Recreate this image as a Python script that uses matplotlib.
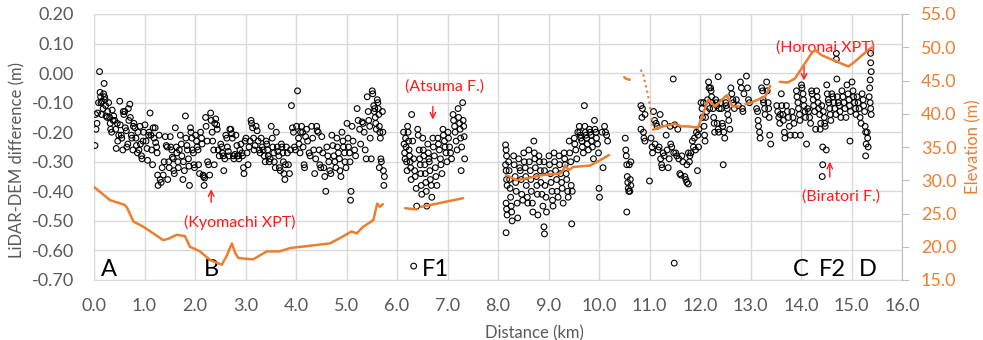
import matplotlib
matplotlib.use("Agg")
import matplotlib.pyplot as plt
import numpy as np

plt.rcParams['font.family'] = ['Lato', 'DejaVu Sans']

# ---------------- data: LiDAR-DEM difference (m) vs distance (km) ----------------
seg_a = [(0.02,-0.245),(0.03,-0.14),(0.04,-0.19),(0.06,-0.17),(0.07,-0.135),(0.09,-0.10),
         (0.11,0.005),(0.12,-0.065),(0.13,-0.08),(0.14,-0.10),(0.15,-0.14),(0.16,-0.095),(0.18,-0.12),(0.19,-0.07),
         (0.20,-0.035),(0.21,-0.08),(0.22,-0.09),(0.23,-0.11),(0.24,-0.145),(0.26,-0.15),(0.27,-0.13),(0.29,-0.10),
         (0.31,-0.15),(0.32,-0.17),(0.33,-0.19),(0.35,-0.20),(0.36,-0.125),(0.38,-0.16),(0.39,-0.145),
         (0.41,-0.16),(0.43,-0.19),(0.44,-0.255),(0.46,-0.17),(0.47,-0.23),(0.49,-0.21),
         (0.51,-0.095),(0.52,-0.175),(0.54,-0.21),(0.55,-0.22),(0.57,-0.26),(0.58,-0.13),(0.59,-0.14),
         (0.61,-0.13),(0.62,-0.185),(0.64,-0.195),(0.65,-0.25),(0.67,-0.24),(0.68,-0.12),(0.69,-0.16),
         (0.71,-0.105),(0.72,-0.15),(0.74,-0.21),(0.75,-0.22),(0.77,-0.26),(0.78,-0.18),(0.79,-0.17),
         (0.81,-0.185),(0.83,-0.22),(0.84,-0.245),(0.86,-0.27),(0.87,-0.20),(0.89,-0.26),
         (0.91,-0.18),(0.92,-0.24),(0.94,-0.28),(0.95,-0.29),(0.97,-0.23),(0.98,-0.20)]

seg_b = [(1.01,-0.175),(1.03,-0.23),(1.05,-0.255),(1.06,-0.295),(1.08,-0.21),(1.09,-0.20),
         (1.11,-0.135),(1.13,-0.21),(1.14,-0.26),(1.16,-0.31),(1.17,-0.185),(1.19,-0.22),
         (1.21,-0.185),(1.22,-0.235),(1.24,-0.25),(1.25,-0.27),(1.26,-0.345),(1.27,-0.38),(1.29,-0.21),
         (1.31,-0.36),(1.33,-0.37),(1.35,-0.32),(1.37,-0.345),(1.39,-0.30),
         (1.41,-0.215),(1.43,-0.245),(1.45,-0.25),(1.46,-0.36),(1.48,-0.30),(1.49,-0.32),
         (1.51,-0.215),(1.52,-0.25),(1.54,-0.26),(1.55,-0.285),(1.57,-0.29),(1.58,-0.33),(1.59,-0.34),
         (1.61,-0.185),(1.63,-0.25),(1.64,-0.27),(1.66,-0.30),(1.67,-0.32),(1.69,-0.26),
         (1.71,-0.21),(1.73,-0.24),(1.74,-0.28),(1.76,-0.36),(1.77,-0.30),(1.79,-0.33),
         (1.81,-0.145),(1.82,-0.22),(1.84,-0.245),(1.85,-0.26),(1.87,-0.29),(1.88,-0.315),(1.89,-0.38),
         (1.91,-0.185),(1.92,-0.20),(1.94,-0.22),(1.95,-0.26),(1.97,-0.27),(1.98,-0.31),(1.99,-0.32)]

seg_c = [(2.01,-0.21),(2.03,-0.23),(2.04,-0.25),(2.06,-0.26),(2.07,-0.31),(2.09,-0.34),
         (2.11,-0.20),(2.13,-0.22),(2.14,-0.24),(2.16,-0.345),(2.17,-0.35),(2.19,-0.355),(2.18,-0.38),
         (2.21,-0.15),(2.22,-0.18),(2.24,-0.23),(2.25,-0.30),(2.27,-0.31),(2.29,-0.345),
         (2.31,-0.135),(2.32,-0.16),(2.34,-0.20),(2.35,-0.23),(2.37,-0.26),(2.38,-0.31),(2.39,-0.17),
         (2.41,-0.155),(2.43,-0.175),(2.44,-0.19),(2.46,-0.26),(2.48,-0.28),
         (2.51,-0.24),(2.53,-0.25),(2.54,-0.27),(2.56,-0.28),(2.57,-0.33),(2.59,-0.29),
         (2.61,-0.21),(2.63,-0.22),(2.64,-0.25),(2.66,-0.265),(2.67,-0.28),(2.69,-0.19),
         (2.71,-0.19),(2.73,-0.205),(2.74,-0.22),(2.76,-0.28),(2.77,-0.29),(2.79,-0.275),
         (2.81,-0.21),(2.83,-0.245),(2.84,-0.28),(2.86,-0.28),(2.87,-0.29),(2.89,-0.26),
         (2.91,-0.24),(2.93,-0.27),(2.94,-0.28),(2.96,-0.32),(2.97,-0.34),(2.99,-0.23)]

seg_d = [(3.01,-0.22),(3.03,-0.27),(3.05,-0.31),(3.07,-0.25),(3.09,-0.23),
         (3.11,-0.16),(3.12,-0.17),(3.14,-0.185),(3.16,-0.22),(3.17,-0.26),(3.19,-0.245),
         (3.21,-0.18),(3.23,-0.195),(3.25,-0.23),(3.27,-0.26),(3.29,-0.27),
         (3.31,-0.22),(3.33,-0.25),(3.35,-0.26),(3.37,-0.28),(3.39,-0.30),
         (3.41,-0.23),(3.42,-0.24),(3.44,-0.26),(3.45,-0.28),(3.47,-0.30),(3.49,-0.29),
         (3.51,-0.18),(3.53,-0.22),(3.54,-0.25),(3.56,-0.27),(3.57,-0.30),(3.59,-0.32),
         (3.61,-0.20),(3.63,-0.25),(3.64,-0.265),(3.66,-0.28),(3.67,-0.32),(3.69,-0.33),
         (3.71,-0.24),(3.72,-0.25),(3.74,-0.27),(3.75,-0.30),(3.76,-0.34),(3.78,-0.36),(3.79,-0.31),
         (3.81,-0.25),(3.83,-0.27),(3.85,-0.31),(3.87,-0.34),(3.89,-0.26),
         (3.91,-0.11),(3.93,-0.185),(3.95,-0.20),(3.97,-0.25),(3.99,-0.26)]

seg_e = [(4.01,-0.18),(4.03,-0.06),(4.05,-0.22),(4.06,-0.24),(4.08,-0.27),(4.09,-0.20),
         (4.11,-0.18),(4.13,-0.20),(4.14,-0.25),(4.16,-0.31),(4.17,-0.32),(4.19,-0.215),
         (4.21,-0.19),(4.23,-0.23),(4.26,-0.27),(4.28,-0.28),
         (4.31,-0.18),(4.33,-0.22),(4.35,-0.26),(4.37,-0.34),(4.39,-0.29),
         (4.41,-0.18),(4.42,-0.195),(4.44,-0.20),(4.46,-0.26),(4.47,-0.31),(4.49,-0.32),
         (4.51,-0.215),(4.53,-0.27),(4.55,-0.32),(4.57,-0.35),(4.59,-0.40),
         (4.61,-0.25),(4.63,-0.28),(4.65,-0.30),(4.67,-0.33),(4.69,-0.34),
         (4.71,-0.21),(4.73,-0.245),(4.75,-0.28),(4.77,-0.30),(4.79,-0.32),
         (4.81,-0.22),(4.82,-0.25),(4.84,-0.27),(4.86,-0.29),(4.87,-0.33),(4.89,-0.35),
         (4.91,-0.20),(4.93,-0.23),(4.94,-0.25),(4.96,-0.27),(4.97,-0.30),(4.99,-0.32)]

seg_f = [(5.01,-0.17),(5.03,-0.22),(5.04,-0.25),(5.06,-0.27),(5.07,-0.30),(5.09,-0.40),(5.08,-0.43),
         (5.11,-0.18),(5.13,-0.23),(5.16,-0.26),(5.18,-0.28),
         (5.21,-0.12),(5.23,-0.16),(5.26,-0.19),(5.28,-0.24),
         (5.31,-0.165),(5.33,-0.17),(5.35,-0.20),(5.37,-0.26),(5.39,-0.29),
         (5.41,-0.08),(5.43,-0.13),(5.44,-0.16),(5.46,-0.18),(5.47,-0.22),(5.49,-0.29),
         (5.51,-0.06),(5.52,-0.07),(5.54,-0.11),(5.55,-0.13),(5.57,-0.15),(5.58,-0.17),(5.59,-0.19),(5.56,-0.12),
         (5.61,-0.09),(5.62,-0.10),(5.63,-0.12),(5.64,-0.14),(5.65,-0.18),(5.66,-0.20),(5.67,-0.22),(5.68,-0.29),(5.69,-0.30),(5.65,-0.32),
         (5.71,-0.13),(5.72,-0.20),(5.73,-0.33),(5.74,-0.38),(5.75,-0.35)]

seg_g = [(6.13,-0.20),(6.14,-0.24),(6.15,-0.27),(6.16,-0.29),(6.17,-0.22),(6.18,-0.25),(6.19,-0.30),(6.20,-0.33),
         (6.21,-0.18),(6.22,-0.20),(6.23,-0.23),(6.24,-0.26),(6.25,-0.28),(6.26,-0.30),(6.27,-0.32),(6.28,-0.36),(6.29,-0.14),
         (6.31,-0.23),(6.33,-0.29),(6.35,-0.33),(6.36,-0.35),(6.38,-0.39),(6.39,-0.45),(6.33,-0.653),
         (6.41,-0.19),(6.42,-0.21),(6.44,-0.26),(6.45,-0.29),(6.46,-0.31),(6.47,-0.34),(6.48,-0.38),(6.49,-0.41),
         (6.51,-0.22),(6.52,-0.26),(6.53,-0.28),(6.55,-0.31),(6.56,-0.34),(6.57,-0.37),(6.58,-0.40),(6.59,-0.45),
         (6.61,-0.24),(6.62,-0.27),(6.63,-0.29),(6.64,-0.30),(6.65,-0.33),(6.66,-0.36),(6.68,-0.38),(6.69,-0.42),
         (6.71,-0.22),(6.72,-0.25),(6.74,-0.28),(6.76,-0.32),(6.77,-0.35),(6.79,-0.38),
         (6.81,-0.22),(6.82,-0.24),(6.84,-0.26),(6.86,-0.29),(6.87,-0.31),(6.89,-0.34),
         (6.91,-0.19),(6.92,-0.21),(6.94,-0.23),(6.95,-0.25),(6.97,-0.27),(6.99,-0.30),
         (7.01,-0.20),(7.02,-0.22),(7.04,-0.25),(7.06,-0.27),(7.08,-0.29),
         (7.11,-0.14),(7.12,-0.16),(7.14,-0.18),(7.15,-0.20),(7.17,-0.23),(7.19,-0.26),
         (7.21,-0.12),(7.22,-0.15),(7.24,-0.17),(7.25,-0.19),(7.26,-0.22),(7.28,-0.25),(7.27,-0.33),
         (7.30,-0.10),(7.31,-0.16),(7.32,-0.18),(7.33,-0.215),(7.34,-0.29)]

seg_h = [(8.15,-0.243),(8.16,-0.26),(8.17,-0.28),(8.15,-0.31),(8.16,-0.33),(8.17,-0.36),(8.18,-0.38),(8.16,-0.44),(8.17,-0.46),(8.18,-0.48),(8.16,-0.54),
         (8.21,-0.30),(8.22,-0.33),(8.23,-0.36),(8.24,-0.39),(8.25,-0.42),(8.26,-0.45),(8.27,-0.47),(8.28,-0.50),
         (8.31,-0.28),(8.32,-0.31),(8.34,-0.35),(8.35,-0.37),(8.36,-0.40),(8.38,-0.44),(8.39,-0.49),
         (8.41,-0.29),(8.43,-0.32),(8.44,-0.33),(8.46,-0.36),(8.47,-0.41),(8.49,-0.43),
         (8.51,-0.27),(8.52,-0.30),(8.54,-0.32),(8.55,-0.35),(8.56,-0.38),(8.58,-0.42),(8.59,-0.44),
         (8.61,-0.26),(8.62,-0.30),(8.64,-0.33),(8.65,-0.36),(8.66,-0.40),(8.68,-0.44),(8.69,-0.47),
         (8.71,-0.23),(8.72,-0.27),(8.73,-0.29),(8.74,-0.32),(8.76,-0.35),(8.77,-0.38),(8.78,-0.41),(8.79,-0.48),
         (8.81,-0.28),(8.82,-0.30),(8.84,-0.33),(8.85,-0.37),(8.87,-0.41),(8.89,-0.45),
         (8.91,-0.30),(8.92,-0.33),(8.93,-0.38),(8.95,-0.42),(8.96,-0.47),(8.91,-0.52),(8.92,-0.544),
         (9.01,-0.28),(9.02,-0.31),(9.04,-0.34),(9.05,-0.37),(9.07,-0.40),(9.08,-0.43),(9.09,-0.45),
         (9.11,-0.27),(9.12,-0.30),(9.14,-0.33),(9.16,-0.36),(9.17,-0.40),(9.19,-0.42),
         (9.21,-0.28),(9.22,-0.31),(9.24,-0.34),(9.26,-0.37),(9.27,-0.39),(9.29,-0.44),
         (9.31,-0.27),(9.32,-0.29),(9.33,-0.31),(9.35,-0.34),(9.36,-0.36),(9.38,-0.40),(9.39,-0.42),
         (9.41,-0.23),(9.42,-0.27),(9.44,-0.30),(9.45,-0.38),(9.47,-0.40),(9.46,-0.51),
         (9.51,-0.22),(9.52,-0.24),(9.54,-0.26),(9.56,-0.29),(9.58,-0.20),
         (9.61,-0.18),(9.62,-0.20),(9.63,-0.21),(9.64,-0.22),(9.66,-0.23),(9.67,-0.25),(9.69,-0.27),
         (9.71,-0.11),(9.72,-0.18),(9.73,-0.20),(9.74,-0.21),(9.76,-0.22),(9.77,-0.24),(9.79,-0.26),
         (9.81,-0.19),(9.82,-0.20),(9.84,-0.21),(9.85,-0.23),(9.87,-0.25),(9.89,-0.29),
         (9.91,-0.16),(9.92,-0.19),(9.94,-0.20),(9.95,-0.22),(9.97,-0.24),(9.99,-0.27),
         (10.00,-0.39),(10.01,-0.42),(10.08,-0.32),(10.06,-0.20),(10.11,-0.18),(10.13,-0.20),(10.15,-0.21),(10.17,-0.23)]

seg_i = [(10.52,-0.22),(10.53,-0.26),(10.54,-0.28),(10.55,-0.31),(10.56,-0.35),(10.57,-0.37),(10.58,-0.39),
         (10.59,-0.40),(10.55,-0.47),(10.60,-0.31),(10.62,-0.36),(10.63,-0.38),(10.61,-0.40),(10.63,-0.30),
         (10.83,-0.11),(10.85,-0.15),(10.91,-0.14),(10.83,-0.19),(10.88,-0.20),(10.89,-0.22),(10.91,-0.23),(10.86,-0.12)]

seg_j = [(11.00,-0.365),(11.03,-0.22),(11.05,-0.25),(11.06,-0.27),(11.08,-0.13),(11.10,-0.16),
         (11.11,-0.24),(11.13,-0.17),(11.15,-0.18),(11.17,-0.26),(11.19,-0.25),(11.21,-0.14),
         (11.22,-0.29),(11.24,-0.31),(11.25,-0.32),(11.27,-0.27),(11.29,-0.28),(11.30,-0.17),
         (11.33,-0.21),(11.35,-0.26),(11.37,-0.32),(11.39,-0.29),(11.41,-0.18),(11.42,-0.24),
         (11.44,-0.25),(11.47,-0.02),(11.48,-0.27),(11.50,-0.175),(11.52,-0.27),(11.54,-0.28),
         (11.56,-0.19),(11.58,-0.29),(11.60,-0.34),(11.62,-0.345),(11.64,-0.28),(11.66,-0.30),
         (11.70,-0.35),(11.72,-0.36),(11.74,-0.37),(11.74,-0.31),(11.77,-0.375),(11.77,-0.27),
         (11.79,-0.30),(11.80,-0.28),(11.82,-0.27),(11.85,-0.23),(11.87,-0.25),(11.89,-0.22),
         (11.91,-0.26),(11.93,-0.20),(11.95,-0.33),(11.96,-0.21),(11.97,-0.25),(11.98,-0.19),
         (11.49,-0.643)]

seg_k = [(12.02,-0.10),(12.04,-0.12),(12.05,-0.15),(12.07,-0.10),(12.08,-0.18),(12.09,-0.21),(12.10,-0.23),
         (12.11,-0.15),(12.13,-0.13),(12.15,-0.09),(12.17,-0.03),(12.18,-0.05),(12.19,-0.12),
         (12.21,-0.05),(12.22,-0.06),(12.23,-0.08),(12.24,-0.10),(12.26,-0.12),(12.27,-0.15),(12.28,-0.17),(12.29,-0.20),
         (12.31,-0.09),(12.32,-0.10),(12.33,-0.11),(12.34,-0.17),(12.36,-0.19),(12.37,-0.20),(12.38,-0.12),(12.36,-0.012),
         (12.41,-0.10),(12.42,-0.12),(12.44,-0.17),(12.45,-0.18),(12.46,-0.31),(12.47,-0.20),(12.49,-0.22),
         (12.51,-0.10),(12.52,-0.11),(12.54,-0.12),(12.55,-0.14),(12.57,-0.16),(12.59,-0.19),
         (12.61,-0.05),(12.63,-0.07),(12.65,-0.09),(12.66,-0.10),(12.68,-0.12),
         (12.72,-0.09),(12.76,-0.11),
         (12.80,-0.03),(12.82,-0.05),(12.84,-0.12),(12.85,-0.13),(12.87,-0.07),
         (12.92,-0.01),(12.94,-0.05),(12.96,-0.09),(12.98,-0.10),
         (13.12,-0.12),(13.14,-0.13),(13.15,-0.16),(13.16,-0.18),(13.18,-0.20),(13.19,-0.22),
         (13.22,-0.05),(13.24,-0.06),(13.25,-0.09),(13.26,-0.10),(13.28,-0.12),(13.29,-0.14),
         (13.32,-0.03),(13.33,-0.06),(13.35,-0.10),(13.36,-0.12),(13.37,-0.15),(13.38,-0.21),(13.40,-0.24)]

seg_l = [(13.52,-0.11),(13.54,-0.13),(13.56,-0.15),(13.58,-0.17),(13.59,-0.14),
         (13.61,-0.07),(13.62,-0.11),(13.64,-0.14),(13.65,-0.16),(13.67,-0.20),(13.68,-0.22),
         (13.71,-0.11),(13.73,-0.13),(13.75,-0.15),(13.77,-0.18),(13.79,-0.21),
         (13.82,-0.13),(13.84,-0.15),(13.86,-0.17),(13.88,-0.21),
         (13.91,-0.06),(13.92,-0.08),(13.94,-0.10),(13.95,-0.12),(13.97,-0.14),(13.98,-0.16),(13.99,-0.21),
         (14.01,-0.04),(14.02,-0.05),(14.04,-0.07),(14.05,-0.09),(14.06,-0.11),(14.08,-0.13),(14.09,-0.15),(14.11,-0.24),
         (14.13,-0.12),(14.15,-0.13),(14.17,-0.15),(14.19,-0.17),
         (14.21,-0.06),(14.22,-0.07),(14.24,-0.09),(14.25,-0.11),(14.27,-0.13),(14.29,-0.19),
         (14.31,-0.06),(14.32,-0.08),(14.34,-0.10),(14.35,-0.12),(14.37,-0.14),(14.38,-0.19),(14.39,-0.17),
         (14.41,-0.11),(14.44,-0.13),(14.46,-0.15),(14.47,-0.17),(14.48,-0.18),
         (14.43,-0.25),(14.50,-0.26),(14.43,-0.31),(14.42,-0.35),
         (14.51,-0.04),(14.52,-0.07),(14.54,-0.09),(14.55,-0.10),(14.57,-0.12),(14.58,-0.14),(14.59,-0.16),
         (14.61,-0.07),(14.63,-0.08),(14.65,-0.10),(14.67,-0.12),(14.69,-0.14),
         (14.71,-0.02),(14.72,-0.08),(14.74,-0.10),(14.76,-0.11),(14.77,-0.13),(14.79,-0.15),
         (14.70,0.067),(14.70,0.047),
         (14.81,-0.06),(14.83,-0.08),(14.85,-0.10),(14.87,-0.12),(14.89,-0.15),
         (14.91,-0.04),(14.93,-0.07),(14.95,-0.09),(14.96,-0.11),(14.98,-0.13),(14.97,-0.23),
         (15.01,-0.03),(15.03,-0.06),(15.04,-0.08),(15.06,-0.10),(15.08,-0.12),(15.09,-0.14),
         (15.11,-0.08),(15.13,-0.10),(15.15,-0.12),(15.17,-0.15),(15.19,-0.17),
         (15.21,-0.07),(15.23,-0.09),(15.24,-0.11),(15.26,-0.13),(15.27,-0.18),(15.28,-0.20),(15.29,-0.24),(15.28,-0.28),
         (15.31,-0.20),(15.32,-0.22),(15.33,-0.25),
         (15.38,0.067),(15.38,0.035),(15.39,0.005),(15.37,-0.023),(15.36,-0.05),(15.35,-0.08),(15.37,-0.10),(15.38,-0.12),(15.39,-0.14)]

# ---------------- data: elevation (m) ----------------
elev1_x = [0.0, 0.32, 0.61, 0.66, 0.78, 0.98, 1.37, 1.47, 1.64, 1.80, 1.90, 2.10, 2.30, 2.53, 2.62,
           2.73, 2.80, 2.86, 3.15, 3.42, 3.68, 3.88, 4.67, 4.87, 5.10, 5.20, 5.33, 5.53, 5.61, 5.66, 5.72]
elev1_y = [29.0, 27.0, 26.3, 25.8, 23.8, 23.0, 21.0, 21.2, 21.8, 21.6, 20.0, 19.3, 18.0, 17.3, 18.5,
           20.5, 19.0, 18.3, 18.1, 19.3, 19.3, 19.8, 20.5, 21.3, 22.3, 22.0, 23.0, 24.0, 26.5, 26.0, 26.4]
elev2_x = [6.16, 6.40]
elev2_y = [25.8, 25.6]
elev3_x = [6.47, 6.80, 7.05, 7.31]
elev3_y = [26.0, 26.5, 26.9, 27.3]
elev4_x = [8.16, 8.37, 8.64, 8.90, 9.23, 9.30, 9.33, 9.40, 9.49, 9.82, 10.02, 10.20]
elev4_y = [30.8, 30.0, 30.4, 30.8, 31.0, 31.6, 32.3, 31.5, 32.0, 32.2, 33.0, 33.8]
elev5_x = [10.50, 10.53, 10.61]
elev5_y = [45.5, 45.3, 45.1]
elev6_x = [10.82, 10.87, 10.90, 10.95, 11.00, 11.07]
elev6_y = [46.6, 46.2, 45.1, 43.5, 41.6, 37.6]
elev7_x = [11.07, 11.27, 11.50, 11.63, 11.77, 11.96, 12.16, 12.30, 12.53, 12.64]
elev7_y = [37.6, 38.1, 38.5, 38.1, 38.1, 37.9, 42.1, 41.1, 42.8, 41.1]
elev8_x = [12.64, 12.76, 12.92, 13.02]
elev8_y = [41.1, 41.1, 41.5, 41.7]
elev9_x = [13.02, 13.29, 13.33, 13.39]
elev9_y = [41.7, 42.6, 43.2, 44.2]
elev10_x = [13.58, 13.74, 13.88, 14.01, 14.21, 14.28, 14.41, 14.94, 15.06, 15.33, 15.43]
elev10_y = [44.8, 44.7, 45.3, 46.8, 49.1, 49.6, 48.8, 47.1, 47.8, 49.6, 50.1]

x_ticks = [0, 1, 2, 3, 4, 5, 6, 7, 8, 9, 10, 11, 12, 13, 14, 15, 16]
y_ticks = [-0.7, -0.6, -0.5, -0.4, -0.3, -0.2, -0.1, 0.0, 0.1, 0.2]
y2_ticks = [15, 20, 25, 30, 35, 40, 45, 50, 55]

site_labels = ['A', 'B', 'F1', 'C', 'F2', 'D']
site_x = [0.30, 2.32, 6.77, 14.0, 14.63, 15.32]

notes = ['(Kyomachi XPT)', '(Atsuma F.)', '(Horonai XPT)', '(Biratori F.)']
note_xy = [(2.88, -0.504), (6.95, -0.044), (14.48, 0.088), (14.79, -0.419)]
arrow_tip = [(2.32, -0.393), (6.71, -0.157), (14.06, -0.025), (14.57, -0.300)]
arrow_tail = [(2.32, -0.437), (6.71, -0.113), (14.06, 0.022), (14.57, -0.352)]

# ---------------- drawing ----------------
GREY = '#595959'
GRID = '#D9D9D9'
ORANGE = '#ED7D31'
RED = '#FF1A1A'

fig = plt.figure(figsize=(9.83, 3.40), dpi=100)
ax = fig.add_axes([94/983, 60/340, 808/983, 266/340])
ax.set_xlim(0, 16)
ax.set_ylim(-0.7, 0.2)
ax.set_xticks(x_ticks)
ax.set_xticklabels([f"{v:.1f}" for v in x_ticks])
ax.set_yticks(y_ticks)
ax.set_yticklabels([f"{v:.2f}" for v in y_ticks])
ax.grid(True, color=GRID, lw=1.0)
ax.set_axisbelow(True)
for s in ax.spines.values():
    s.set_color(GRID)
ax.tick_params(axis='both', length=0, colors=GREY, labelsize=13)
ax.tick_params(axis='y', pad=14.5)
ax.tick_params(axis='x', pad=13)

segs = seg_a + seg_b + seg_c + seg_d + seg_e + seg_f + seg_g + seg_h + seg_i + seg_j + seg_k + seg_l
px = [p[0] for p in segs]
py = [p[1] for p in segs]
ax.scatter(px, py, s=17, facecolors='none', edgecolors='black', linewidths=0.8, zorder=3)

ax.set_xlabel('Distance (km)', color=GREY, fontsize=12)
ax.xaxis.set_label_coords(0.545, -0.17)
ax.set_ylabel('LiDAR-DEM difference (m)', color=GREY, fontsize=12)
ax.yaxis.set_label_coords(-0.0854, 0.45)

ax2 = ax.twinx()
ax2.set_ylim(15, 55)
ax2.set_yticks(y2_ticks)
ax2.set_yticklabels([f"{v:.1f}" for v in y2_ticks])
ax2.tick_params(axis='y', length=5, color='#BFBFBF', labelcolor=ORANGE, labelsize=13, pad=8.5)
for s in ax2.spines.values():
    s.set_visible(False)
ax2.spines['right'].set_visible(True)
ax2.spines['right'].set_color('#BFBFBF')
ax2.set_ylabel('Elevation (m)', color=ORANGE, fontsize=12, rotation=90)
ax2.yaxis.set_label_coords(1.0785, 0.5)

for ex, ey in [(elev1_x, elev1_y), (elev2_x, elev2_y), (elev3_x, elev3_y), (elev4_x, elev4_y),
               (elev5_x, elev5_y), (elev7_x, elev7_y), (elev9_x, elev9_y), (elev10_x, elev10_y)]:
    ax2.plot(ex, ey, color=ORANGE, lw=1.8, solid_capstyle='round')
ax2.plot(elev6_x, elev6_y, color=ORANGE, lw=1.6, ls=(0, (1.0, 1.5)))
ax2.plot(elev8_x, elev8_y, color=ORANGE, lw=1.8, ls=(0, (3, 2)))

for lab, lx in zip(site_labels, site_x):
    ax.text(lx, -0.664, lab, ha='center', va='center', fontsize=17, color='black', zorder=5)

for txt, (tx, ty) in zip(notes, note_xy):
    ax.text(tx, ty, txt, ha='center', va='center', fontsize=11.5, color=RED, zorder=5)
for tip, tail in zip(arrow_tip, arrow_tail):
    ax.annotate('', xy=tip, xytext=tail,
                arrowprops=dict(arrowstyle='->', color=RED, lw=1.0, shrinkA=0, shrinkB=0,
                                mutation_scale=10), zorder=5)

fig.savefig('out.png', dpi=100)
